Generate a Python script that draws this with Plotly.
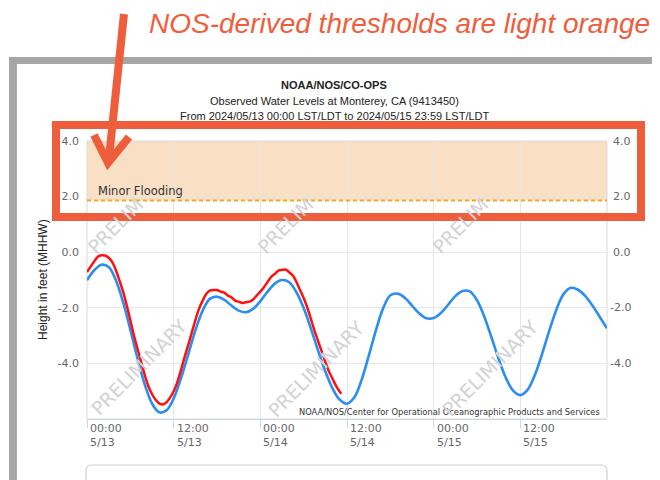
import pandas as pd
import plotly.graph_objects as go

# ---------------- data ----------------
start = pd.Timestamp("2024-05-13 00:00")

pred_hours = list(range(0, 73))
pred_ft = [-1.01, -0.65, -0.45, -0.53, -1.01, -1.80, -2.79, -3.83, -4.76, -5.44,
           -5.76, -5.69, -5.26, -4.55, -3.69, -2.82, -2.11, -1.68, -1.60, -1.71,
           -1.92, -2.10, -2.16, -2.04, -1.76, -1.42, -1.13, -1.00, -1.08, -1.44,
           -2.01, -2.75, -3.54, -4.29, -4.90, -5.31, -5.45, -5.23, -4.61, -3.74,
           -2.81, -2.02, -1.55, -1.49, -1.64, -1.92, -2.20, -2.38, -2.37, -2.19,
           -1.89, -1.58, -1.40, -1.41, -1.73, -2.31, -3.06, -3.84, -4.52, -4.98,
           -5.14, -4.95, -4.43, -3.67, -2.83, -2.06, -1.50, -1.28, -1.35, -1.58,
           -1.93, -2.33, -2.74]

obs_hours = [h / 2 for h in range(0, 71)] + [35.2]
obs_ft = [-0.71, -0.52, -0.33, -0.16, -0.11, -0.12, -0.20, -0.36, -0.65, -1.02,
          -1.42, -1.91, -2.45, -3.00, -3.48, -3.95, -4.42, -4.82, -5.10, -5.31,
          -5.44, -5.48, -5.40, -5.23, -5.00, -4.68, -4.25, -3.78, -3.35, -2.90,
          -2.45, -2.04, -1.75, -1.50, -1.38, -1.36, -1.36, -1.42, -1.45, -1.56,
          -1.62, -1.74, -1.78, -1.83, -1.80, -1.78, -1.70, -1.56, -1.42, -1.26,
          -1.07, -0.89, -0.78, -0.66, -0.64, -0.62, -0.72, -0.84, -1.07, -1.36,
          -1.65, -1.99, -2.40, -2.82, -3.20, -3.57, -3.95, -4.29, -4.55, -4.82,
          -5.02, -5.09]

minor_flood_ft = 1.86
band_top_ft = 4.0

x_tick_hours = [0, 12, 24, 36, 48, 60]
x_tick_labels = ["00:00<br>5/13", "12:00<br>5/13", "00:00<br>5/14",
                 "12:00<br>5/14", "00:00<br>5/15", "12:00<br>5/15"]
y_tick_vals = [4.0, 2.0, 0.0, -2.0, -4.0]
y_tick_labels = ["4.0", "2.0", "0.0", "-2.0", "-4.0"]

title_lines = ["<b>NOAA/NOS/CO-OPS</b>",
               "Observed Water Levels at Monterey, CA (9413450)",
               "From 2024/05/13 00:00 LST/LDT to 2024/05/15 23:59 LST/LDT"]
callout_text = "NOS-derived thresholds are light orange"

# ---------------- helpers (screen pixel -> paper) ----------------
OFF = 8                     # default page body margin
W, H = 660 - OFF, 480 - OFF
PL, PR, PT, PB = 87, 607, 141, 419   # plot area on screen
ML, MR, MT, MB = PL - OFF, 660 - PR, PT - OFF, 480 - PB
PW, PH = PR - PL, PB - PT


def px(x):
    return (x - PL) / PW


def py(y):
    return (PB - y) / PH


def t(h):
    return start + pd.Timedelta(hours=h)


pred_x = [t(h) for h in pred_hours]
obs_x = [t(h) for h in obs_hours]

ACCENT = "#EF5E3C"
TICKFONT = dict(family="DejaVu Sans", size=11, color="#666666")

fig = go.Figure()
fig.add_trace(go.Scatter(x=pred_x, y=pred_ft, mode="lines", line=dict(color="#2B8EF0", width=2.6, shape="spline"),
                         name="Predictions", hoverinfo="skip"))
fig.add_trace(go.Scatter(x=obs_x, y=obs_ft, mode="lines", line=dict(color="#FF1010", width=2.5, shape="spline",
                                                                     smoothing=0.6),
                         name="Observed", hoverinfo="skip"))

shapes = []
# threshold band + dashed line
shapes.append(dict(type="rect", xref="paper", yref="y", x0=0, x1=1, y0=minor_flood_ft, y1=band_top_ft,
                   fillcolor="#F9E0C4", line=dict(width=0), layer="below"))
shapes.append(dict(type="line", xref="paper", yref="y", x0=0, x1=1, y0=minor_flood_ft, y1=minor_flood_ft,
                   line=dict(color="#F7A81B", width=2, dash="4px,3px"), layer="above"))
# plot frame
shapes.append(dict(type="rect", xref="paper", yref="paper", x0=0, x1=1, y0=0, y1=1,
                   line=dict(color="#DADADA", width=1), layer="below"))
# outer gray frame of screenshot
shapes.append(dict(type="rect", xref="paper", yref="paper", x0=px(9), x1=px(17), y0=py(482), y1=py(57),
                   fillcolor="#A6A6A6", line=dict(width=0), layer="above"))
shapes.append(dict(type="rect", xref="paper", yref="paper", x0=px(9), x1=px(662), y0=py(64), y1=py(57),
                   fillcolor="#A6A6A6", line=dict(width=0), layer="above"))
shapes.append(dict(type="rect", xref="paper", yref="paper", x0=px(653), x1=px(657), y0=py(482), y1=py(64),
                   fillcolor="#BDBDBD", line=dict(width=0), layer="above"))
# legend box outline at bottom
shapes.append(dict(type="path", xref="paper", yref="paper",
                   path=(f"M {px(86)},{py(485)} L {px(86)},{py(471)} Q {px(86)},{py(465)} {px(92)},{py(465)} "
                         f"L {px(601)},{py(465)} Q {px(607)},{py(465)} {px(607)},{py(471)} L {px(607)},{py(485)}"),
                   line=dict(color="#CFCFCF", width=1.2), layer="above"))
# callout rectangle
shapes.append(dict(type="rect", xref="paper", yref="paper", x0=px(56), x1=px(641), y0=py(217), y1=py(125),
                   line=dict(color=ACCENT, width=8), layer="above"))
# callout arrow
shapes.append(dict(type="path", xref="paper", yref="paper",
                   path=f"M {px(124)},{py(14)} L {px(109)},{py(158)}",
                   line=dict(color=ACCENT, width=8), layer="above"))
shapes.append(dict(type="path", xref="paper", yref="paper",
                   path=f"M {px(94)},{py(135)} L {px(108)},{py(163)} L {px(129)},{py(137)}",
                   line=dict(color=ACCENT, width=8), layer="above"))

annotations = []
# title
for i, line in enumerate(title_lines):
    annotations.append(dict(xref="paper", yref="paper", x=px(334), y=py(85 + 15.5 * i), text=line,
                            showarrow=False, xanchor="center", yanchor="middle",
                            font=dict(family="Liberation Sans", size=11, color="#222222")))
# callout text
annotations.append(dict(xref="paper", yref="paper", x=px(147), y=py(24), text=callout_text, showarrow=False,
                        xanchor="left", yanchor="middle",
                        font=dict(family="Liberation Sans", size=28, color=ACCENT, style="italic")))
# x tick labels
for h, lab in zip(x_tick_hours, x_tick_labels):
    annotations.append(dict(xref="x", yref="paper", x=t(h), y=py(420), text=lab, showarrow=False,
                            xanchor="left", yanchor="top", xshift=1, align="left", font=TICKFONT))
# right-side y tick labels
for v, lab in zip(y_tick_vals, y_tick_labels):
    annotations.append(dict(xref="paper", yref="y", x=px(633), y=v, text=lab, showarrow=False,
                            xanchor="right", yanchor="middle", font=TICKFONT))
# y-axis title
annotations.append(dict(xref="paper", yref="paper", x=px(43), y=0.5, text="Height in feet (MHHW)",
                        showarrow=False, textangle=-90, xanchor="center", yanchor="middle",
                        font=dict(family="Liberation Sans", size=12, color="#222222")))
# minor flooding label
annotations.append(dict(xref="paper", yref="y", x=px(96), y=minor_flood_ft, yshift=9, text="Minor Flooding",
                        showarrow=False, xanchor="left", yanchor="middle",
                        font=dict(family="DejaVu Sans", size=11.5, color="#333333")))
# credits
annotations.append(dict(xref="paper", yref="paper", x=px(602), y=py(412),
                        text="NOAA/NOS/Center for Operational Oceanographic Products and Services",
                        showarrow=False, xanchor="right", yanchor="middle",
                        font=dict(family="DejaVu Sans", size=8.3, color="#333333")))
# PRELIMINARY watermarks
wm_font = dict(family="DejaVu Sans", size=19, color="#D3D3D3")
for cx, cy, txt in [(115, 226, "PRELIM"), (285, 226, "PRELIM"), (460, 226, "PRELIM"),
                    (139, 367, "PRELIMINARY"), (316, 369, "PRELIMINARY"), (490, 368, "PRELIMINARY")]:
    annotations.append(dict(xref="paper", yref="paper", x=px(cx), y=py(cy), text=txt, showarrow=False,
                            textangle=-45, xanchor="center", yanchor="middle", font=wm_font))

fig.update_layout(
    width=W, height=H,
    margin=dict(l=ML, r=MR, t=MT, b=MB, pad=0),
    paper_bgcolor="white", plot_bgcolor="white",
    showlegend=False,
    shapes=shapes, annotations=annotations,
    xaxis=dict(type="date", range=[t(0), t(72)], tickvals=[t(h) for h in x_tick_hours],
               showticklabels=False, showgrid=True, gridcolor="#E6E6E6", gridwidth=1,
               ticks="outside", ticklen=8, tickcolor="#CCD6EB", tickwidth=1,
               showline=True, linecolor="#CCD6EB", linewidth=1, zeroline=False, fixedrange=True),
    yaxis=dict(range=[-6, 4], tickvals=y_tick_vals, ticktext=y_tick_labels, tickfont=TICKFONT,
               showgrid=True, gridcolor="#E6E6E6", gridwidth=1, ticks="", ticklabelstandoff=7,
               showline=False, zeroline=False, fixedrange=True),
)

fig.write_html("out.html")
